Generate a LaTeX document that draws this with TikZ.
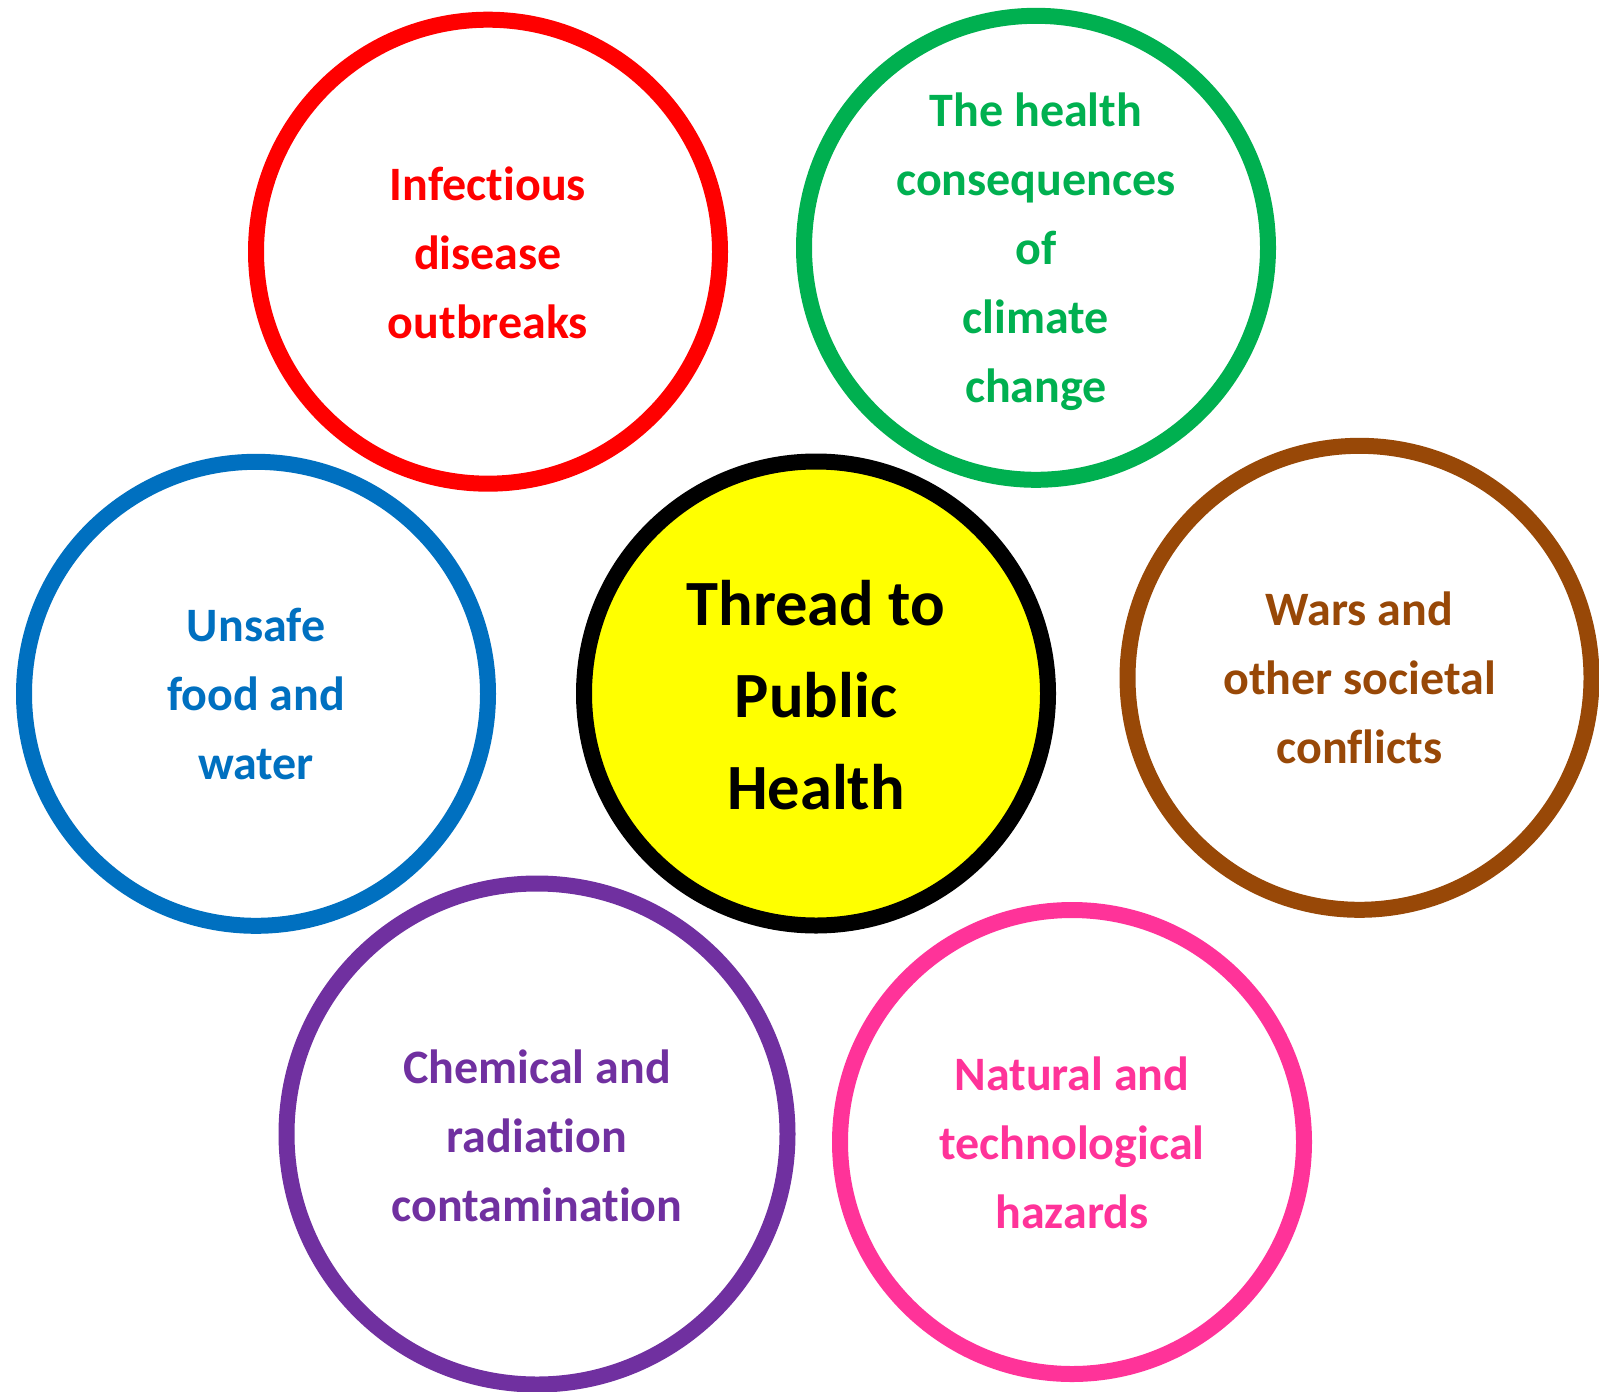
\documentclass[tikz,border=0pt]{standalone}
\usepackage{fontspec}
\setmainfont[Ligatures=NoCommon]{Carlito}
\definecolor{cRed}{HTML}{FF0000}
\definecolor{cGreen}{HTML}{00B050}
\definecolor{cBlue}{HTML}{0070C0}
\definecolor{cBrown}{HTML}{984807}
\definecolor{cPurple}{HTML}{7030A0}
\definecolor{cPink}{HTML}{FF3399}
\definecolor{cYellow}{HTML}{FFFF00}
\newcommand{\firstline}{\rule{0pt}{60pt}}
\begin{document}
\begin{tikzpicture}[x=1pt,y=-1pt,
  ring/.style={circle, draw, line width=16pt, minimum size=464pt, inner sep=0pt},
  txt/.style={inner sep=0pt, anchor=north, align=center,
    font=\bfseries\fontsize{48}{69}\selectfont},
  bigtxt/.style={inner sep=0pt, anchor=north, align=center,
    font=\bfseries\fontsize{64.5}{92}\selectfont}]
\useasboundingbox (0,0) rectangle (1599,1392);
\fill[white] (0,0) rectangle (1599,1392);

\node[ring, draw=cRed] (red) at (488,251.7) {};
\node[ring, draw=cGreen] (green) at (1036,247.8) {};
\node[ring, draw=cBlue] (blue) at (256,693.8) {};
\node[ring, draw=black, fill=cYellow] (center) at (816,693.5) {};
\node[ring, draw=cBrown] (brown) at (1359.5,677.8) {};
\node[ring, draw=cPurple, minimum size=501pt] (purple) at (537,1134) {};
\node[ring, draw=cPink] (pink) at (1072,1142) {};

\node[txt, text=cRed] (redtxt) at (488,140) {\firstline Infectious\\disease\\outbreaks};
\node[txt, text=cGreen] (greentxt) at (1036,66.7) {\firstline The health\\consequences\\of\\climate\\change};
\node[txt, text=cBlue] (bluetxt) at (256,581.7) {\firstline Unsafe\\food and\\water};
\node[bigtxt, text=black] (centertxt) at (816,565) {\firstline Thread to\\Public\\Health};
\node[txt, text=cBrown] (browntxt) at (1359.5,565) {\firstline Wars and\\other societal\\conflicts};
\node[txt, text=cPurple] (purpletxt) at (537,1023) {\firstline Chemical and\\radiation\\contamination};
\node[txt, text=cPink] (pinktxt) at (1072,1030) {\firstline Natural and\\technological\\hazards};
\end{tikzpicture}
\end{document}
